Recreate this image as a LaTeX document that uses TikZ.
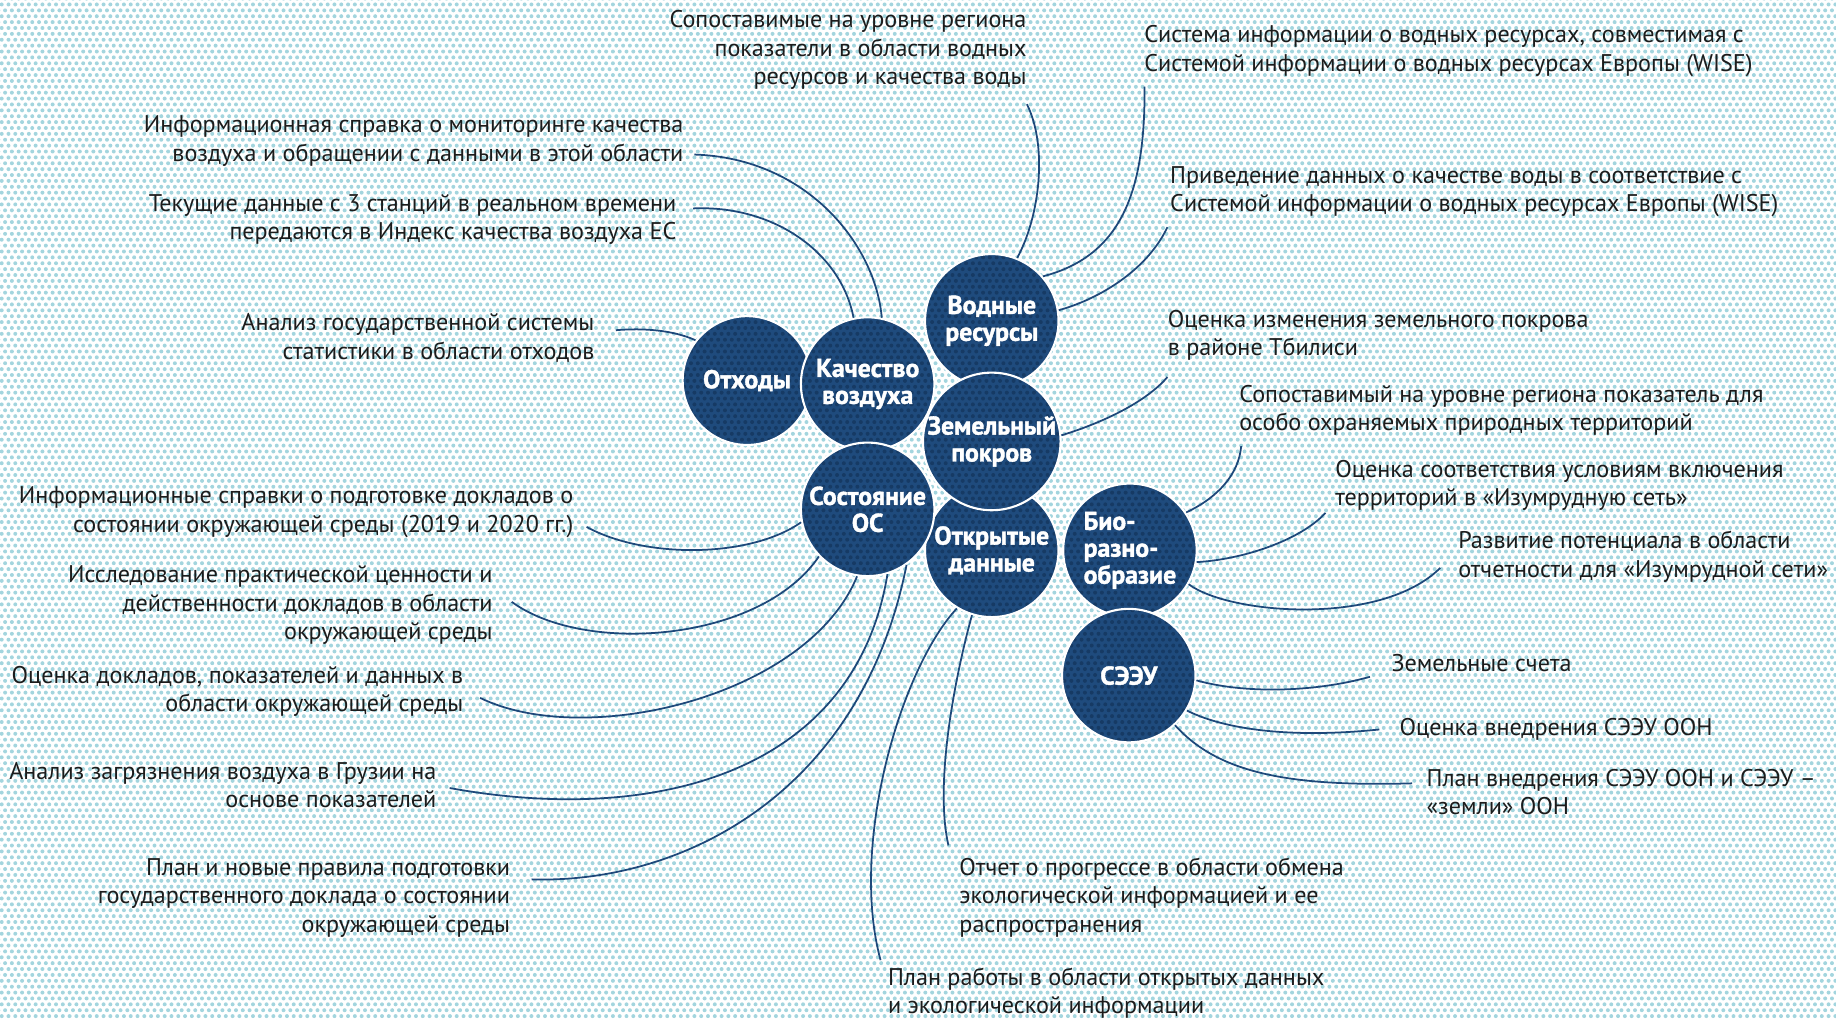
\documentclass[tikz,border=0pt]{standalone}
\usepackage{fontspec}
\setmainfont{PT Sans}
\newfontfamily\circfont{PT Sans Bold}[FakeBold=1.5]
\usetikzlibrary{patterns}
\pgfdeclarepatternformonly{bgdots}{\pgfqpoint{-1.2pt}{-1.2pt}}{\pgfqpoint{4.2pt}{6.2pt}}{\pgfqpoint{2.9pt}{5.023pt}}{%
  \pgfpathcircle{\pgfqpoint{0.725pt}{1.256pt}}{0.85pt}%
  \pgfpathcircle{\pgfqpoint{2.175pt}{3.767pt}}{0.85pt}%
  \pgfusepath{fill}}
\definecolor{navy}{RGB}{31,75,125}
\definecolor{navydot}{RGB}{22,58,100}
\definecolor{bgdot}{RGB}{163,213,222}
\definecolor{txt}{RGB}{28,28,28}
\definecolor{linec}{RGB}{30,72,122}
\newcommand{\fl}{\rule{0pt}{9pt}}
\tikzset{
  topic/.style={circle, inner sep=0pt, minimum size=57pt, fill=navy, draw=white,
    line width=0.9pt, text=white, align=center,
    font=\circfont\fontsize{11}{11.5}\selectfont,
    path picture={\fill[pattern=bgdots, pattern color=navydot]
      (path picture bounding box.south west) rectangle (path picture bounding box.north east);}},
  lbl/.style={inner sep=0pt, text=txt, font=\fontsize{10.3}{12.25}\selectfont},
  lblL/.style={lbl, align=right, anchor=north east},
  lblR/.style={lbl, align=left, anchor=north west},
  conn/.style={draw=linec, line width=0.75pt}
}
\begin{document}
\begin{tikzpicture}[x=0.5pt,y=-0.5pt]
\fill[white] (0,0) rectangle (1568,870.3);
\fill[pattern=bgdots, pattern color=bgdot] (0,0) rectangle (1568,870.3);
\useasboundingbox (0,0) rectangle (1568,870.3);

% circles
\node[topic, minimum size=55pt] (waste) at (638,325) {Отходы};
\node[topic] (wat) at (847,274) {Водные\\ресурсы};
\node[topic] (open) at (847,470) {Открытые\\данные};
\node[topic, align=left] (bio) at (965,470) {Био-\\разно-\\образие};
\node[topic] (air) at (741,328) {Качество\\воздуха};
\node[topic] (land) at (847,377) {Земельный\\покров};
\node[topic] (soe) at (741,435) {Состояние\\ОС};
\node[topic] (seea) at (964,577) {СЭЭУ};

% labels
\node[lblL] (t1) at (877,5) {\fl Сопоставимые на уровне региона\\показатели в области водных\\ресурсов и качества воды};
\node[lblL] (t2) at (584,95) {\fl Информационная справка о мониторинге качества\\воздуха и обращении с данными в этой области};
\node[lblL] (t3) at (578,162) {\fl Текущие данные с 3 станций в реальном времени\\передаются в Индекс качества воздуха ЕС};
\node[lblL] (t4) at (508,264) {\fl Анализ государственной системы\\статистики в области отходов};
\node[lblL] (t5) at (490,412) {\fl Информационные справки о подготовке докладов о\\состоянии окружающей среды (2019 и 2020 гг.)};
\node[lblL] (t6) at (421,479) {\fl Исследование практической ценности и\\действенности докладов в области\\окружающей среды};
\node[lblL] (t7) at (396,565) {\fl Оценка докладов, показателей и данных в\\области окружающей среды};
\node[lblL] (t8) at (373,647) {\fl Анализ загрязнения воздуха в Грузии на\\основе показателей};
\node[lblL] (t9) at (436,729) {\fl План и новые правила подготовки\\государственного доклада о состоянии\\окружающей среды};
\node[lblR] (t10) at (758,823) {\fl План работы в области открытых данных\\и экологической информации};
\node[lblR] (t11) at (819,729) {\fl Отчет о прогрессе в области обмена\\экологической информацией и ее\\распространения};
\node[lblR] (t12) at (977,18) {\fl Система информации о водных ресурсах, совместимая с\\Системой информации о водных ресурсах Европы (WISE)};
\node[lblR] (t13) at (999,138) {\fl Приведение данных о качестве воды в соответствие с\\Системой информации о водных ресурсах Европы (WISE)};
\node[lblR] (t14) at (997,261) {\fl Оценка изменения земельного покрова\\в районе Тбилиси};
\node[lblR] (t15) at (1058,325) {\fl Сопоставимый на уровне региона показатель для\\особо охраняемых природных территорий};
\node[lblR] (t16) at (1140,389) {\fl Оценка соответствия условиям включения\\территорий в «Изумрудную сеть»};
\node[lblR] (t17) at (1245,450) {\fl Развитие потенциала в области\\отчетности для «Изумрудной сети»};
\node[lblR] (t18) at (1188,555) {\fl Земельные счета};
\node[lblR] (t19) at (1195,610) {\fl Оценка внедрения СЭЭУ ООН};
\node[lblR] (t20) at (1218,653) {\fl План внедрения СЭЭУ ООН и СЭЭУ –\\«земли» ООН};

% connector ends
\coordinate (e1) at (877,89);
\coordinate (e2) at (977.5,74);
\coordinate (e3) at (997,194);
\coordinate (e4) at (593,132);
\coordinate (e5) at (592,178);
\coordinate (e6) at (526,282);
\coordinate (e7) at (997,322);
\coordinate (e8) at (1060,381);
\coordinate (e9) at (1132,438);
\coordinate (e10) at (1230,485);
\coordinate (e11) at (1170,578);
\coordinate (e12) at (1178,623);
\coordinate (e13) at (1206,669);
\coordinate (e14) at (810,722);
\coordinate (e15) at (752,820);
\coordinate (e16) at (501,450);
\coordinate (e17) at (437,514);
\coordinate (e18) at (410,596);
\coordinate (e19) at (384,673);
\coordinate (e20) at (454,751);

% connectors
\draw[conn] (wat.68) .. controls (888,185) and (895,125) .. (e1);
\draw[conn] (wat.41) .. controls (960,218) and (978,160) .. (e2);
\draw[conn] (wat.9) .. controls (940,255) and (980,230) .. (e3);
\draw[conn] (air.78) .. controls (748,210) and (690,135) .. (e4);
\draw[conn] (air.102) .. controls (718,215) and (660,175) .. (e5);
\draw[conn] (waste.142) .. controls (575,282) and (550,280) .. (e6);
\draw[conn] (land.5) .. controls (945,360) and (980,342) .. (e7);
\draw[conn] (bio.34) .. controls (1040,425) and (1058,405) .. (e8);
\draw[conn] (bio.-10) .. controls (1060,478) and (1110,462) .. (e9);
\draw[conn] (bio.-30) .. controls (1050,525) and (1180,535) .. (e10);
\draw[conn] (seea.-4) .. controls (1060,592) and (1120,592) .. (e11);
\draw[conn] (seea.-31) .. controls (1050,625) and (1110,630) .. (e12);
\draw[conn] (seea.-47) .. controls (1040,660) and (1100,672) .. (e13);
\draw[conn] (open.253) .. controls (815,580) and (798,670) .. (e14);
\draw[conn] (open.239) .. controls (770,570) and (725,720) .. (e15);
\draw[conn] (soe.191) .. controls (640,477) and (550,477) .. (e16);
\draw[conn] (soe.224) .. controls (650,548) and (500,560) .. (e17);
\draw[conn] (soe.261) .. controls (690,595) and (500,640) .. (e18);
\draw[conn] (soe.287) .. controls (730,660) and (560,705) .. (e19);
\draw[conn] (soe.305) .. controls (735,680) and (580,755) .. (e20);
\end{tikzpicture}
\end{document}
